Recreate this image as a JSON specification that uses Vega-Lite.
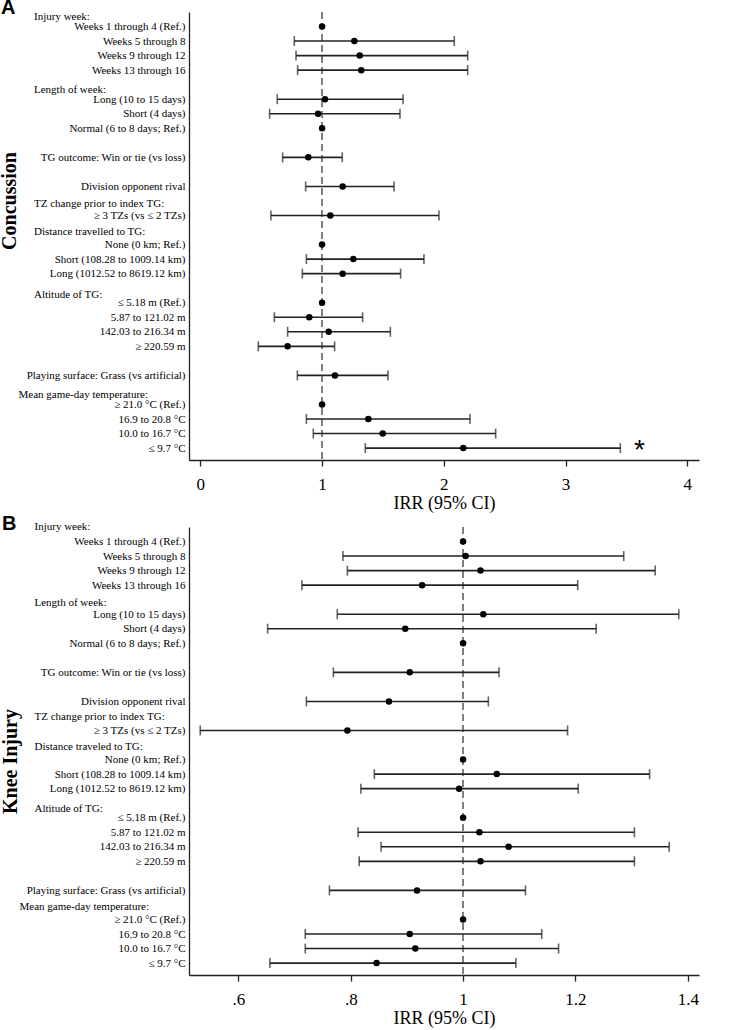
{
  "$schema": "https://vega.github.io/schema/vega-lite/v6.json",
  "padding": {"left": -1, "top": -2, "right": 2, "bottom": 2},
  "background": "white",
  "spacing": 2,
  "config": {
    "view": {"stroke": null},
    "font": "Liberation Serif",
    "axis": {"grid": false, "labelColor": "black", "titleColor": "black", "domainColor": "#222", "domainWidth": 1.3}
  },
  "datasets": {
    "conc": [
      {"label": "Weeks 1 through 4 (Ref.)", "irr": 1},
      {"label": "Weeks 5 through 8", "irr": 1.265, "lo": 0.772, "hi": 2.086},
      {"label": "Weeks 9 through 12", "irr": 1.309, "lo": 0.786, "hi": 2.196},
      {"label": "Weeks 13 through 16", "irr": 1.322, "lo": 0.799, "hi": 2.196},
      {"label": "Long (10 to 15 days)", "irr": 1.024, "lo": 0.632, "hi": 1.665},
      {"label": "Short (4 days)", "irr": 0.967, "lo": 0.569, "hi": 1.64},
      {"label": "Normal (6 to 8 days; Ref.)", "irr": 1},
      {"label": "TG outcome: Win or tie (vs loss)", "irr": 0.887, "lo": 0.676, "hi": 1.166},
      {"label": "Division opponent rival", "irr": 1.169, "lo": 0.865, "hi": 1.591},
      {"label": "≥ 3 TZs (vs ≤ 2 TZs)", "irr": 1.068, "lo": 0.58, "hi": 1.96},
      {"label": "None (0 km; Ref.)", "irr": 1},
      {"label": "Short (108.28 to 1009.14 km)", "irr": 1.257, "lo": 0.871, "hi": 1.837},
      {"label": "Long (1012.52 to 8619.12 km)", "irr": 1.169, "lo": 0.838, "hi": 1.645},
      {"label": "≤ 5.18 m (Ref.)", "irr": 1},
      {"label": "5.87 to 121.02 m", "irr": 0.895, "lo": 0.608, "hi": 1.333},
      {"label": "142.03 to 216.34 m", "irr": 1.054, "lo": 0.717, "hi": 1.561},
      {"label": "≥ 220.59 m", "irr": 0.717, "lo": 0.476, "hi": 1.103},
      {"label": "Playing surface: Grass (vs artificial)", "irr": 1.106, "lo": 0.797, "hi": 1.541},
      {"label": "≥ 21.0 °C (Ref.)", "irr": 1},
      {"label": "16.9 to 20.8 °C", "irr": 1.38, "lo": 0.871, "hi": 2.215},
      {"label": "10.0 to 16.7 °C", "irr": 1.498, "lo": 0.928, "hi": 2.426},
      {"label": "≤ 9.7 °C", "irr": 2.16, "lo": 1.355, "hi": 3.45, "note": "*"}
    ],
    "knee": [
      {"label": "Weeks 1 through 4 (Ref.)", "irr": 1},
      {"label": "Weeks 5 through 8", "irr": 1.0045, "lo": 0.786, "hi": 1.286},
      {"label": "Weeks 9 through 12", "irr": 1.031, "lo": 0.794, "hi": 1.342},
      {"label": "Weeks 13 through 16", "irr": 0.927, "lo": 0.713, "hi": 1.204},
      {"label": "Long (10 to 15 days)", "irr": 1.036, "lo": 0.776, "hi": 1.384},
      {"label": "Short (4 days)", "irr": 0.897, "lo": 0.652, "hi": 1.237},
      {"label": "Normal (6 to 8 days; Ref.)", "irr": 1},
      {"label": "TG outcome: Win or tie (vs loss)", "irr": 0.905, "lo": 0.769, "hi": 1.064},
      {"label": "Division opponent rival", "irr": 0.868, "lo": 0.721, "hi": 1.045},
      {"label": "≥ 3 TZs (vs ≤ 2 TZs)", "irr": 0.794, "lo": 0.532, "hi": 1.186},
      {"label": "None (0 km; Ref.)", "irr": 1},
      {"label": "Short (108.28 to 1009.14 km)", "irr": 1.06, "lo": 0.842, "hi": 1.332},
      {"label": "Long (1012.52 to 8619.12 km)", "irr": 0.993, "lo": 0.818, "hi": 1.205},
      {"label": "≤ 5.18 m (Ref.)", "irr": 1},
      {"label": "5.87 to 121.02 m", "irr": 1.029, "lo": 0.813, "hi": 1.305},
      {"label": "142.03 to 216.34 m", "irr": 1.081, "lo": 0.854, "hi": 1.367},
      {"label": "≥ 220.59 m", "irr": 1.031, "lo": 0.815, "hi": 1.305},
      {"label": "Playing surface: Grass (vs artificial)", "irr": 0.918, "lo": 0.762, "hi": 1.111},
      {"label": "≥ 21.0 °C (Ref.)", "irr": 1},
      {"label": "16.9 to 20.8 °C", "irr": 0.905, "lo": 0.719, "hi": 1.14},
      {"label": "10.0 to 16.7 °C", "irr": 0.915, "lo": 0.719, "hi": 1.17},
      {"label": "≤ 9.7 °C", "irr": 0.846, "lo": 0.656, "hi": 1.094}
    ]
  },
  "vconcat": [
    {
      "title": {"text": "A", "anchor": "start", "frame": "bounds", "font": "Liberation Sans", "fontSize": 20, "fontWeight": "bold", "color": "black", "offset": -24, "dx": 2, "baseline": "alphabetic"},
      "width": 510,
      "height": 448,
      "data": {"name": "conc"},
      "layer": [
        {
          "mark": {"type": "rule", "strokeDash": [7, 4], "color": "#808080", "strokeWidth": 1.1},
          "encoding": {"x": {"datum": 1, "type": "quantitative"}}
        },
        {
          "encoding": {
            "y": {
              "field": "label", "type": "nominal",
              "scale": {"type": "point", "padding": 0.41, "align": 0, "domain": ["Injury week:", "Weeks 1 through 4 (Ref.)", "Weeks 5 through 8", "Weeks 9 through 12", "Weeks 13 through 16", "Length of week:", "Long (10 to 15 days)", "Short (4 days)", "Normal (6 to 8 days; Ref.)", "gap1", "TG outcome: Win or tie (vs loss)", "gap2", "Division opponent rival", "TZ change prior to index TG:", "≥ 3 TZs (vs ≤ 2 TZs)", "Distance travelled to TG:", "None (0 km; Ref.)", "Short (108.28 to 1009.14 km)", "Long (1012.52 to 8619.12 km)", "Altitude of TG:", "≤ 5.18 m (Ref.)", "5.87 to 121.02 m", "142.03 to 216.34 m", "≥ 220.59 m", "gap3", "Playing surface: Grass (vs artificial)", "Mean game-day temperature:", "≥ 21.0 °C (Ref.)", "16.9 to 20.8 °C", "10.0 to 16.7 °C", "≤ 9.7 °C"]},
              "axis": {
                "title": "Concussion", "titleFont": "Liberation Serif", "titleFontSize": 20, "titleFontWeight": "bold", "titleColor": "black", "titleY": 188.5, "titlePadding": -1,
                "ticks": false, "tickSize": 0,
                "labelFont": "Liberation Serif", "labelFontSize": 11, "labelColor": "black", "labelLimit": 400, "labelOverlap": false,
                "labelExpr": "substring(datum.value, 0, 3) == 'gap' ? '' : datum.value",
                "labelAlign": {"condition": {"test": "substring(datum.value, length(datum.value) - 1) == ':'", "value": "left"}, "value": "right"},
                "labelPadding": {"condition": [{"test": "datum.value == 'Mean game-day temperature:'", "value": 171}, {"test": "substring(datum.value, length(datum.value) - 1) == ':'", "value": 155.5}], "value": 4},
                "labelOffset": {"condition": [{"test": "datum.value == 'Injury week:'", "value": 4}, {"test": "datum.value == 'Length of week:'", "value": 5}, {"test": "datum.value == 'TZ change prior to index TG:'", "value": 2.5}, {"test": "datum.value == 'Distance travelled to TG:'", "value": 1.5}, {"test": "datum.value == 'Altitude of TG:'", "value": 6.5}, {"test": "datum.value == 'Mean game-day temperature:'", "value": 4.5}], "value": 0},
                "domainColor": "#222", "domainWidth": 1.3
              }
            },
            "x": {
              "field": "irr", "type": "quantitative",
              "scale": {"domain": [-0.093, 4.096], "nice": false, "zero": false},
              "axis": {"title": "IRR (95% CI)", "titleFont": "Liberation Serif", "titleFontSize": 18, "titleFontWeight": "normal", "titleColor": "black", "titlePadding": 2, "values": [0, 1, 2, 3, 4], "format": "d", "labelFont": "Liberation Serif", "labelFontSize": 17, "labelColor": "black", "labelPadding": 10, "labelFlush": false, "ticks": true, "tickSize": 6, "tickColor": "#222", "tickWidth": 1.3, "domainColor": "#222", "domainWidth": 1.3}
            }
          },
          "layer": [
            {
              "transform": [{"filter": "isValid(datum.lo)"}],
              "mark": {"type": "errorbar", "color": "#222", "thickness": 1.6, "rule": {"strokeWidth": 1.6, "color": "#222"}, "ticks": {"size": 10, "thickness": 1.6, "color": "#222"}},
              "encoding": {
                "x": {"field": "lo", "type": "quantitative", "title": "IRR (95% CI)"},
                "x2": {"field": "hi"}
              }
            },
            {
              "mark": {"type": "circle", "size": 42, "color": "black", "opacity": 1}
            },
            {
              "transform": [{"filter": "isValid(datum.note)"}],
              "mark": {"type": "text", "font": "Liberation Sans", "fontSize": 28, "color": "black", "align": "center", "baseline": "alphabetic", "dx": 19, "dy": 11},
              "encoding": {
                "x": {"field": "hi", "type": "quantitative", "title": "IRR (95% CI)"},
                "text": {"field": "note"}
              }
            }
          ]
        }
      ]
    },
    {
      "title": {"text": "B", "anchor": "start", "frame": "bounds", "font": "Liberation Sans", "fontSize": 20, "fontWeight": "bold", "color": "black", "offset": -30, "dx": 2, "baseline": "alphabetic"},
      "width": 510,
      "height": 448,
      "data": {"name": "knee"},
      "layer": [
        {
          "mark": {"type": "rule", "strokeDash": [7, 4], "color": "#808080", "strokeWidth": 1.1},
          "encoding": {"x": {"datum": 1, "type": "quantitative"}}
        },
        {
          "encoding": {
            "y": {
              "field": "label", "type": "nominal",
              "scale": {"type": "point", "padding": 0.41, "align": 0, "domain": ["Injury week:", "Weeks 1 through 4 (Ref.)", "Weeks 5 through 8", "Weeks 9 through 12", "Weeks 13 through 16", "Length of week:", "Long (10 to 15 days)", "Short (4 days)", "Normal (6 to 8 days; Ref.)", "gap1", "TG outcome: Win or tie (vs loss)", "gap2", "Division opponent rival", "TZ change prior to index TG:", "≥ 3 TZs (vs ≤ 2 TZs)", "Distance traveled to TG:", "None (0 km; Ref.)", "Short (108.28 to 1009.14 km)", "Long (1012.52 to 8619.12 km)", "Altitude of TG:", "≤ 5.18 m (Ref.)", "5.87 to 121.02 m", "142.03 to 216.34 m", "≥ 220.59 m", "gap3", "Playing surface: Grass (vs artificial)", "Mean game-day temperature:", "≥ 21.0 °C (Ref.)", "16.9 to 20.8 °C", "10.0 to 16.7 °C", "≤ 9.7 °C"]},
              "axis": {
                "title": "Knee Injury", "titleFont": "Liberation Serif", "titleFontSize": 20, "titleFontWeight": "bold", "titleColor": "black", "titleY": 234, "titlePadding": -1,
                "ticks": false, "tickSize": 0,
                "labelFont": "Liberation Serif", "labelFontSize": 11, "labelColor": "black", "labelLimit": 400, "labelOverlap": false,
                "labelExpr": "substring(datum.value, 0, 3) == 'gap' ? '' : datum.value",
                "labelAlign": {"condition": {"test": "substring(datum.value, length(datum.value) - 1) == ':'", "value": "left"}, "value": "right"},
                "labelPadding": {"condition": [{"test": "datum.value == 'Mean game-day temperature:'", "value": 170}, {"test": "substring(datum.value, length(datum.value) - 1) == ':'", "value": 155}], "value": 4},
                "labelOffset": {"condition": [{"test": "datum.value == 'Injury week:'", "value": -1}, {"test": "datum.value == 'Length of week:'", "value": 3}, {"test": "datum.value == 'TZ change prior to index TG:'", "value": 1}, {"test": "datum.value == 'Distance traveled to TG:'", "value": 1}, {"test": "datum.value == 'Altitude of TG:'", "value": 5.7}, {"test": "datum.value == 'Mean game-day temperature:'", "value": 2}], "value": 0},
                "domainColor": "#222", "domainWidth": 1.3
              }
            },
            "x": {
              "field": "irr", "type": "quantitative",
              "scale": {"domain": [0.512, 1.42], "nice": false, "zero": false},
              "axis": {"title": "IRR (95% CI)", "titleFont": "Liberation Serif", "titleFontSize": 18, "titleFontWeight": "normal", "titleColor": "black", "titlePadding": 2, "values": [0.6, 0.8, 1, 1.2, 1.4], "labelExpr": "datum.value < 1 ? substring(format(datum.value, '.1f'), 1) : format(datum.value, '~g')", "labelFont": "Liberation Serif", "labelFontSize": 17, "labelColor": "black", "labelPadding": 10, "labelFlush": false, "ticks": true, "tickSize": 6, "tickColor": "#222", "tickWidth": 1.3, "domainColor": "#222", "domainWidth": 1.3}
            }
          },
          "layer": [
            {
              "transform": [{"filter": "isValid(datum.lo)"}],
              "mark": {"type": "errorbar", "color": "#222", "thickness": 1.6, "rule": {"strokeWidth": 1.6, "color": "#222"}, "ticks": {"size": 10, "thickness": 1.6, "color": "#222"}},
              "encoding": {
                "x": {"field": "lo", "type": "quantitative", "title": "IRR (95% CI)"},
                "x2": {"field": "hi"}
              }
            },
            {
              "mark": {"type": "circle", "size": 42, "color": "black", "opacity": 1}
            }
          ]
        }
      ]
    }
  ]
}
